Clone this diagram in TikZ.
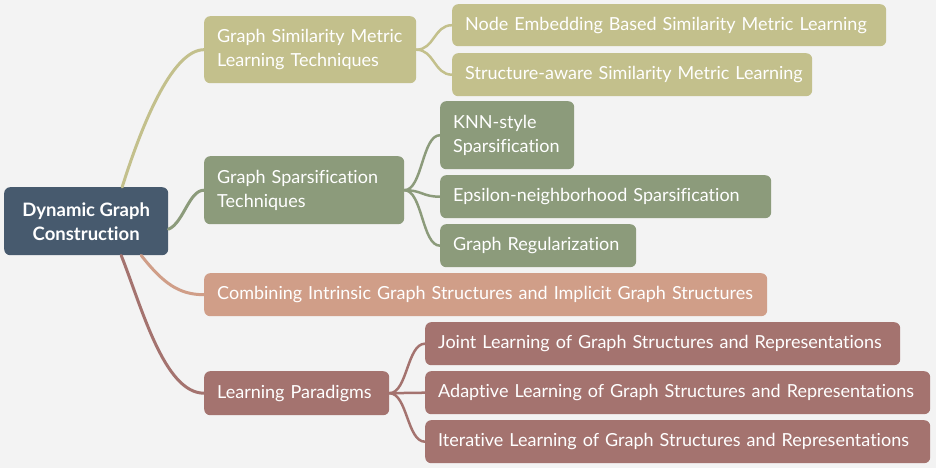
\documentclass[tikz,border=0pt]{standalone}
\usepackage{fontspec}
\setmainfont{Lato}[Ligatures=NoCommon]
\usetikzlibrary{calc}
\definecolor{bg}{HTML}{F3F3F3}
\definecolor{rootc}{HTML}{475A6E}
\definecolor{olivec}{HTML}{C3C08C}
\definecolor{greenc}{HTML}{8C9B7B}
\definecolor{salmonc}{HTML}{D09E88}
\definecolor{brownc}{HTML}{A4736F}
\tikzset{
  box/.style={rounded corners=6pt, inner xsep=13pt, inner ysep=0pt, text=white,
    anchor=north west, align=left, font=\fontsize{18}{24}\selectfont},
  rootbox/.style={rounded corners=6pt, inner sep=0pt, text=white, fill=rootc,
    anchor=north west, align=center, font=\bfseries\fontsize{18.5}{24}\selectfont},
  branch/.style={line width=3pt, line cap=round},
  twig/.style={line width=2.5pt, line cap=round},
}
\begin{document}
\begin{tikzpicture}[x=1pt,y=-1pt]
\fill[bg] (0,0) rectangle (936,468);
\useasboundingbox (0,0) rectangle (936,468);
% root
\node[rootbox, minimum width=164pt, minimum height=68pt] (root) at (4,187) {Dynamic Graph\\Construction};
% level 1
\node[box, fill=olivec, text width=186pt, minimum height=67pt] (gsml) at (204,16) {Graph Similarity Metric\\Learning Techniques};
\node[box, fill=greenc, text width=174pt, minimum height=68pt] (gst) at (204,156) {Graph Sparsification\\Techniques};
\node[box, fill=salmonc, text width=537pt, minimum height=43pt] (comb) at (204,273) {\mbox{Combining Intrinsic Graph Structures and Implicit Graph Structures}};
\node[box, fill=brownc, text width=159pt, minimum height=44pt] (lp) at (204,371) {\mbox{Learning Paradigms}};
% level 2
\node[box, fill=olivec, text width=408pt, minimum height=42pt] (ne) at (452,4) {\mbox{Node Embedding Based Similarity Metric Learning}};
\node[box, fill=olivec, text width=334pt, minimum height=43pt] (sa) at (452,53) {\mbox{Structure-aware Similarity Metric Learning}};
\node[box, fill=greenc, text width=108pt, minimum height=68pt] (knn) at (440,101) {KNN-style\\Sparsification};
\node[box, fill=greenc, text width=305pt, minimum height=43pt] (eps) at (440,175) {\mbox{Epsilon-neighborhood Sparsification}};
\node[box, fill=greenc, text width=170pt, minimum height=43pt] (greg) at (440,224) {\mbox{Graph Regularization}};
\node[box, fill=brownc, text width=449pt, minimum height=43pt] (joint) at (425,322) {\mbox{Joint Learning of Graph Structures and Representations}};
\node[box, fill=brownc, text width=479pt, minimum height=43pt] (adap) at (425,371) {\mbox{Adaptive Learning of Graph Structures and Representations}};
\node[box, fill=brownc, text width=479pt, minimum height=43pt] (iter) at (425,420) {\mbox{Iterative Learning of Graph Structures and Representations}};
% root branches
\draw[branch, olivec] ($(root.north)+(36,0)$) .. controls +(22,-70) and +(-30,0) .. (gsml.west);
\draw[branch, greenc] ($(root.east)+(0,8)$) .. controls +(15,-6) and +(-15,0) .. (gst.west);
\draw[branch, salmonc] ($(root.south)+(55,0)$) .. controls +(22,28) and +(-25,0) .. (comb.west);
\draw[branch, brownc] ($(root.south)+(35,0)$) .. controls +(20,50) and +(-40,0) .. (lp.west);
% twigs
\draw[twig, olivec] (gsml.east) .. controls +(18,0) and +(-18,0) .. (ne.west);
\draw[twig, olivec] (gsml.east) .. controls +(18,0) and +(-18,0) .. (sa.west);
\draw[twig, greenc] (gst.east) .. controls +(18,0) and +(-18,0) .. (knn.west);
\draw[twig, greenc] (gst.east) .. controls +(18,0) and +(-18,0) .. (eps.west);
\draw[twig, greenc] (gst.east) .. controls +(18,0) and +(-18,0) .. (greg.west);
\draw[twig, brownc] (lp.east) .. controls +(18,0) and +(-18,0) .. (joint.west);
\draw[twig, brownc] (lp.east) .. controls +(18,0) and +(-18,0) .. (adap.west);
\draw[twig, brownc] (lp.east) .. controls +(18,0) and +(-18,0) .. (iter.west);
\end{tikzpicture}
\end{document}
